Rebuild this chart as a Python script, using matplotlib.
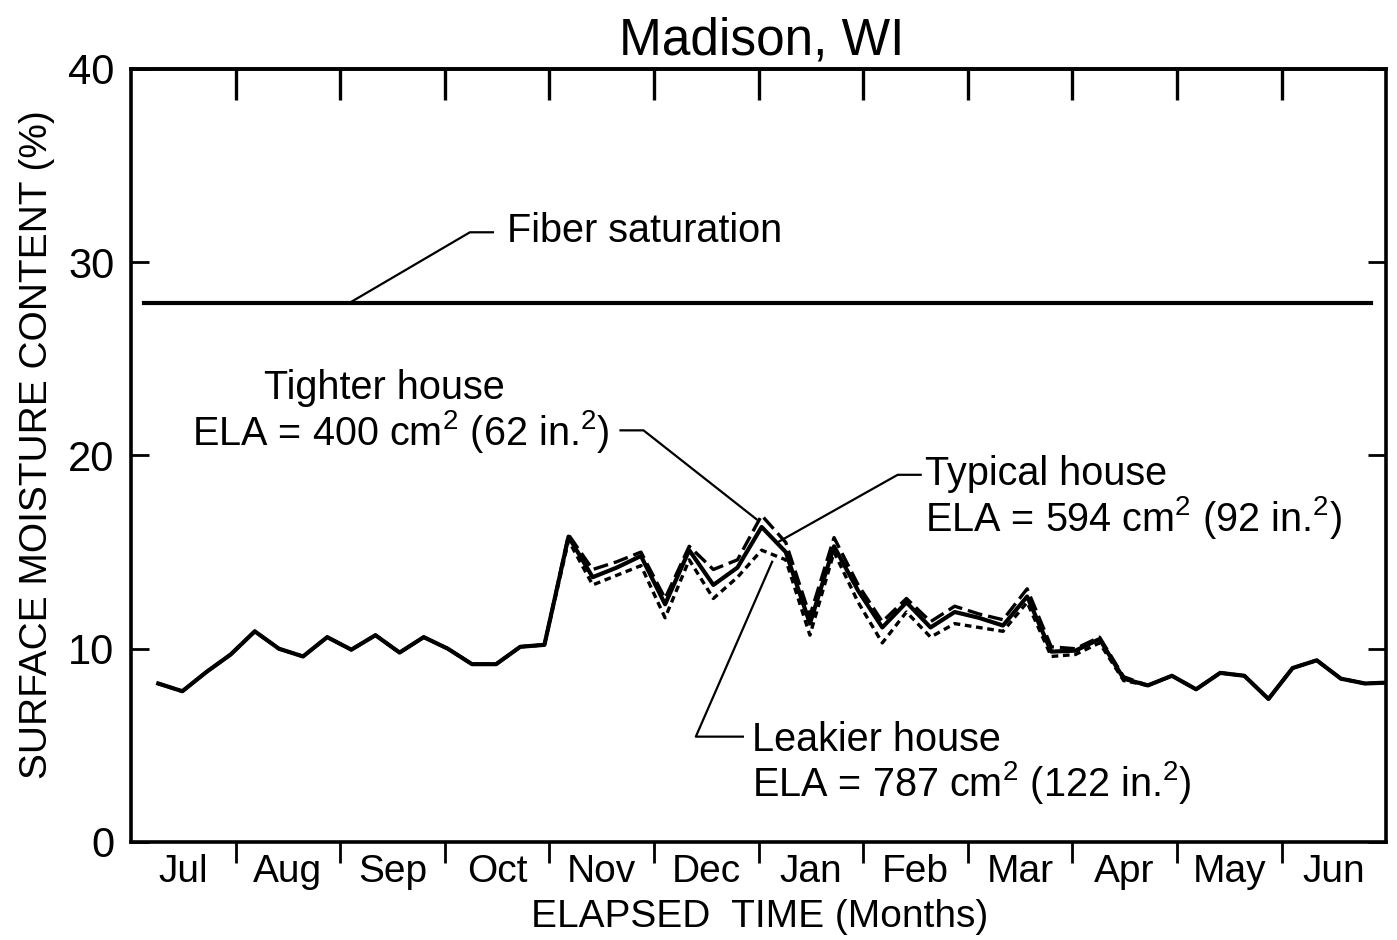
import matplotlib.pyplot as plt
import numpy as np

plt.rcParams['font.family'] = ['Liberation Sans', 'DejaVu Sans']
plt.rcParams['mathtext.fontset'] = 'custom'
plt.rcParams['mathtext.rm'] = 'Liberation Sans'
plt.rcParams['mathtext.it'] = 'Liberation Sans:italic'

# month labels, one per month along the year (Jul .. Jun)
months = ['Jul', 'Aug', 'Sep', 'Oct', 'Nov', 'Dec',
          'Jan', 'Feb', 'Mar', 'Apr', 'May', 'Jun']

# weekly surface moisture content (%)
week_no = np.arange(52)
typical = [8.2, 7.8, 8.8, 9.7, 10.9, 10.0, 9.6, 10.6, 9.95, 10.7, 9.8, 10.6,
           10.0, 9.2, 9.2, 10.1, 10.2, 15.8, 13.7, 14.2, 14.8, 12.3, 15.1, 13.3,
           14.2, 16.3, 15.0, 11.3, 15.3, 13.0, 11.1, 12.4, 11.1, 11.9, 11.6, 11.2,
           12.7, 9.85, 9.9, 10.5, 8.45, 8.1, 8.6, 7.9, 8.75, 8.6, 7.4, 9.0,
           9.4, 8.45, 8.2, 8.25]
tighter = [8.2, 7.8, 8.8, 9.7, 10.9, 10.0, 9.6, 10.6, 9.95, 10.7, 9.8, 10.6,
           10.0, 9.2, 9.2, 10.1, 10.2, 15.9, 14.1, 14.5, 15.0, 12.6, 15.3, 14.1,
           14.6, 16.9, 15.5, 11.7, 15.75, 13.3, 11.4, 12.6, 11.4, 12.2, 11.8, 11.5,
           13.1, 10.1, 10.0, 10.6, 8.55, 8.1, 8.6, 7.9, 8.75, 8.6, 7.4, 9.0,
           9.4, 8.45, 8.2, 8.25]
leakier = [8.2, 7.8, 8.8, 9.7, 10.9, 10.0, 9.6, 10.6, 9.95, 10.7, 9.8, 10.6,
           10.0, 9.2, 9.2, 10.1, 10.2, 15.6, 13.3, 13.8, 14.3, 11.6, 14.6, 12.6,
           13.7, 15.1, 14.6, 10.7, 15.0, 12.4, 10.3, 11.9, 10.6, 11.3, 11.1, 10.9,
           12.4, 9.6, 9.7, 10.3, 8.35, 8.1, 8.6, 7.9, 8.75, 8.6, 7.4, 9.0,
           9.4, 8.45, 8.2, 8.25]
fiber_sat = 27.9

# week index -> elapsed months (first reading about a week into July)
t = 0.26 + week_no * 12 / 52

fig = plt.figure(figsize=(13.97, 9.40), dpi=100)
ax = fig.add_axes([0.0938, 0.1043, 0.8984, 0.8223])

ax.plot([0.12, 11.86], [fiber_sat, fiber_sat], color='black', lw=3.0)
ax.plot(t, tighter, color='black', lw=2.4, dashes=(4.5, 1.8))
ax.plot(t, leakier, color='black', lw=2.4, dashes=(2.0, 1.4))
ax.plot(t, typical, color='black', lw=3.0)

ax.set_xlim(0, 12)
ax.set_ylim(0, 40)

for side in ax.spines.values():
    side.set_linewidth(2.6)

# y axis: inward ticks on both sides
ax.set_yticks([0, 10, 20, 30, 40])
ax.tick_params(axis='y', direction='in', length=13, width=2, right=True,
               labelsize=30, pad=12)

# x axis: month names centred in each month, boundary ticks
ax.set_xticks(np.arange(12) + 0.5)
ax.set_xticklabels(months)
ax.set_xticks(np.arange(1, 12), minor=True)
ax.tick_params(axis='x', which='major', length=0, labelsize=28, pad=9)
ax.tick_params(axis='x', which='minor', direction='out', length=15, width=2)

top = ax.secondary_xaxis('top')
top.set_xticks(np.arange(1, 12))
top.tick_params(direction='in', length=22, width=2.4, labeltop=False)
top.spines['top'].set_linewidth(2.6)

fs = 28.5

# leader lines and labels
ax.plot([2.09, 3.24, 3.46], [fiber_sat, 31.55, 31.55], color='black', lw=1.6)
ax.text(3.59, 31.04, 'Fiber saturation', fontsize=fs)

ax.text(1.27, 22.9, 'Tighter house', fontsize=fs)
ax.text(0.58, 20.55, r'ELA = 400 cm$^2$ (62 in.$^2$)', fontsize=fs)
ax.plot([4.68, 4.9, 5.98], [21.3, 21.3, 16.7], color='black', lw=1.6)

ax.text(7.59, 18.45, 'Typical house', fontsize=fs)
ax.text(7.59, 16.1, r'ELA = 594 cm$^2$ (92 in.$^2$)', fontsize=fs)
ax.plot([7.55, 7.33, 6.18], [19.0, 19.0, 15.5], color='black', lw=1.6)

ax.text(5.94, 4.7, 'Leakier house', fontsize=fs)
ax.text(5.94, 2.4, r'ELA = 787 cm$^2$ (122 in.$^2$)', fontsize=fs)
ax.plot([5.85, 5.4, 6.13], [5.45, 5.45, 14.5], color='black', lw=1.6)

fig.text(0.5455, 0.9415, 'Madison, WI', fontsize=37, ha='center', va='baseline')
fig.text(0.544, 0.0138, 'ELAPSED  TIME (Months)', fontsize=28, ha='center', va='baseline')
fig.text(0.034, 0.527, 'SURFACE MOISTURE CONTENT (%)', fontsize=28, rotation=90,
         ha='center', va='baseline', rotation_mode='anchor')

plt.savefig('out.png', dpi=100)
plt.close()
